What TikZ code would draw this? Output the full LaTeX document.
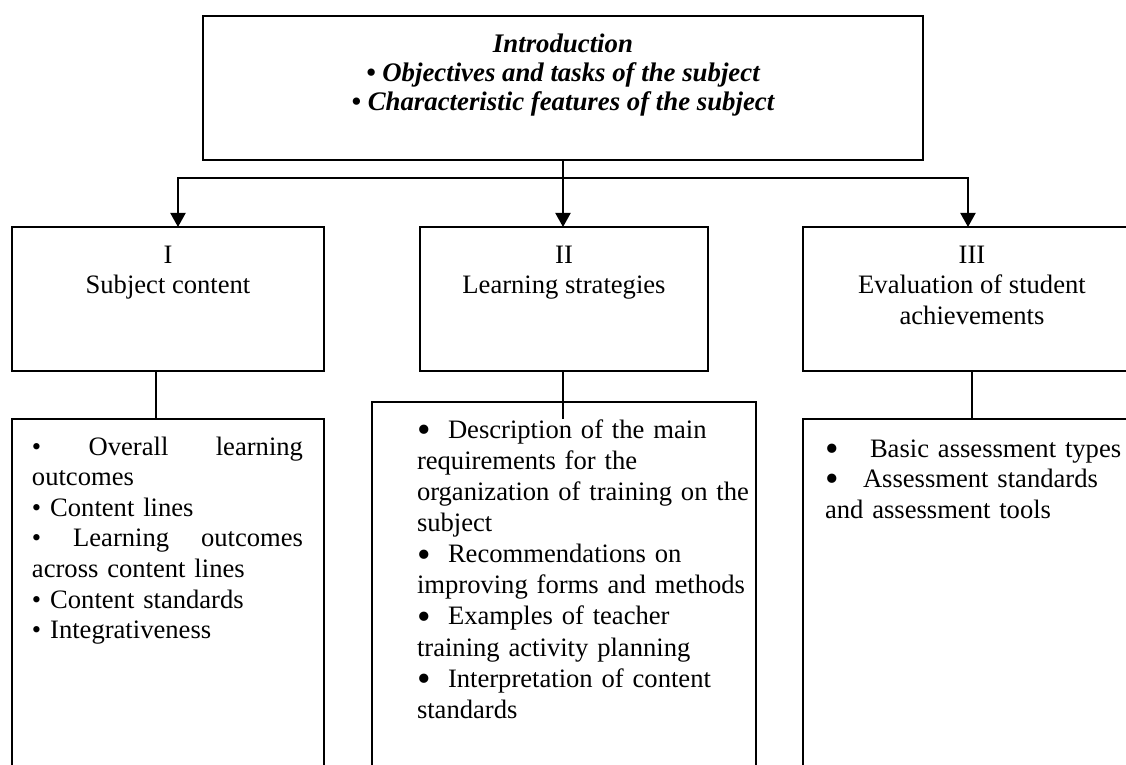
\documentclass[tikz,border=0pt]{standalone}
\usepackage{fontspec}
\setmainfont{Liberation Serif}
\usetikzlibrary{arrows.meta}
\newcommand{\bigbul}{\raisebox{-0.16em}{\scalebox{1.45}{\textbullet}}}
\tikzset{
  boxn/.style={draw, line width=1pt, inner sep=0pt, outer sep=0pt, anchor=north west},
  txt/.style={inner sep=0pt, outer sep=0pt, font=\fontsize{13.3}{15.3}\selectfont},
  toptxt/.style={inner sep=0pt, outer sep=0pt, font=\fontsize{13.4}{14.6}\selectfont\bfseries\itshape},
  conn/.style={line width=1pt},
  arr/.style={line width=1pt, -{Triangle[width=7.5pt,length=7pt]}},
}
\begin{document}
\begin{tikzpicture}[x=0.5pt, y=-0.5pt]
\clip (0,0) rectangle (1126,765);
\fill[white] (0,0) rectangle (1126,765);
% boxes
\node[boxn, minimum width=360pt, minimum height=72pt] (T) at (203,16) {};
\node[boxn, minimum width=156pt, minimum height=72pt] (B1) at (12,227) {};
\node[boxn, minimum width=144pt, minimum height=72pt] (B2) at (420,227) {};
\node[boxn, minimum width=169pt, minimum height=72pt] (B3) at (803,227) {};
\node[boxn, minimum width=156pt, minimum height=195pt] (L1) at (12,419) {};
\node[boxn, minimum width=192pt, minimum height=205pt] (L2) at (372,402) {};
\node[boxn, minimum width=169pt, minimum height=195pt] (L3) at (803,419) {};
% texts
\node[toptxt, anchor=north, align=center] (Tt) at (563,31.6)
  {\strut Introduction\\\textbullet\ Objectives and tasks of the subject\\\textbullet\ Characteristic features of the subject};
\node[txt, anchor=north, align=center] (B1t) at (168,241.6) {\strut I\\Subject content};
\node[txt, anchor=north, align=center] (B2t) at (564,241.6) {\strut II\\Learning strategies};
\node[txt, anchor=north, align=center] (B3t) at (972,241.6) {\strut III\\Evaluation of student\\achievements};
\node[txt, anchor=north west, text width=135.5pt, align=left] (L1t) at (32,433.6)
  {\strut\textbullet\hfill Overall\hfill learning\\
   outcomes\\
   \textbullet\ Content lines\\
   \textbullet\hfill Learning\hfill outcomes\\
   across content lines\\
   \textbullet\ Content standards\\
   \textbullet\ Integrativeness};
\node[txt, anchor=north west, text width=170pt, align=left, font=\fontsize{13.3}{15.55}\selectfont] (L2t) at (417,416.6)
  {\strut\makebox[15.5pt][l]{\bigbul}Description of the main\\
   requirements for the\\
   organization of training on the\\
   subject\\
   \makebox[15.5pt][l]{\bigbul}Recommendations on\\
   improving forms and methods\\
   \makebox[15.5pt][l]{\bigbul}Examples of teacher\\
   training activity planning\\
   \makebox[15.5pt][l]{\bigbul}Interpretation of content\\
   standards};
\node[txt, anchor=north west, text width=150pt, align=left] (L3t) at (825,435.6)
  {\strut\makebox[22.5pt][l]{\bigbul}Basic assessment types\\
   \makebox[19pt][l]{\bigbul}Assessment standards\\
   and assessment tools};
% connectors
\coordinate (j1) at (178,178);
\coordinate (j3) at (968,178);
\draw[arr] (T.south) -- (T.south |- B2.north);
\draw[conn, {Triangle[width=7.5pt,length=7pt]}-{Triangle[width=7.5pt,length=7pt]}]
  (j1 |- B1.north) -- (j1) -- (j3) -- (j3 |- B3.north);
\draw[conn] ([xshift=-6pt]B1.south) -- ([xshift=-6pt]B1.south |- L1.north);
\coordinate (c2) at (563,419);
\draw[conn] (B2.south -| c2) -- (c2);
\draw[conn] (B3.south) -- (B3.south |- L3.north);
\end{tikzpicture}
\end{document}
